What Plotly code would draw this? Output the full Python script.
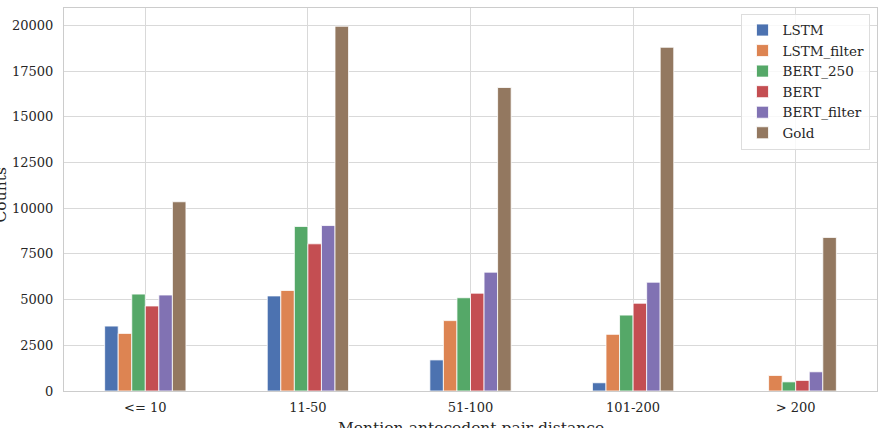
import plotly.graph_objects as go

categories = ["<= 10", "11-50", "51-100", "101-200", "> 200"]
series_names = ["LSTM", "LSTM_filter", "BERT_250", "BERT", "BERT_filter", "Gold"]
lstm = [3550, 5200, 1700, 450, 0]
lstm_filter = [3150, 5500, 3850, 3100, 850]
bert_250 = [5300, 9000, 5100, 4150, 500]
bert = [4650, 8050, 5350, 4800, 580]
bert_filter = [5250, 9050, 6500, 5950, 1050]
gold = [10350, 19950, 16600, 18800, 8400]
colors = ["#4C72B0", "#DD8452", "#55A868", "#C44E52", "#8172B3", "#937860"]

values = [lstm, lstm_filter, bert_250, bert, bert_filter, gold]

FONT = "DejaVu Serif"
TXT = "#262626"

fig = go.Figure()
for name, vals, col in zip(series_names, values, colors):
    fig.add_trace(go.Bar(x=categories, y=vals, name=name,
                         marker=dict(color=col, line=dict(color="white", width=0.8))))

fig.update_layout(
    width=885, height=428,
    margin=dict(l=64, r=8, t=8, b=37),
    paper_bgcolor="white", plot_bgcolor="white",
    barmode="group", bargap=0.5, bargroupgap=0,
    font=dict(family=FONT, size=13, color=TXT),
    showlegend=True,
    legend=dict(x=0.992, y=0.985, xanchor="right", yanchor="top",
                bgcolor="rgba(255,255,255,0.8)", bordercolor="#dddddd", borderwidth=1,
                font=dict(family=FONT, size=13.5, color=TXT)),
    xaxis=dict(range=[-0.5, 4.5], showgrid=True, gridcolor="#d9d9d9", gridwidth=1,
               showline=True, linecolor="#cccccc", linewidth=1.2, mirror=True,
               ticks="", ticklabelstandoff=4, tickfont=dict(size=13, color=TXT),
               zeroline=False),
    yaxis=dict(range=[0, 20948], tickvals=[0, 2500, 5000, 7500, 10000, 12500, 15000, 17500, 20000],
               tickformat="d", showgrid=True, gridcolor="#d9d9d9", gridwidth=1,
               showline=True, linecolor="#cccccc", linewidth=1.2, mirror=True,
               ticks="", ticklabelstandoff=7, tickfont=dict(size=13, color=TXT),
               zeroline=False),
)

fig.add_annotation(text="Counts", xref="paper", yref="paper", x=0, y=0.5,
                   xanchor="center", yanchor="middle", xshift=-64, yshift=4, textangle=-90,
                   showarrow=False, font=dict(family=FONT, size=15.5, color=TXT))
fig.add_annotation(text="Mention-antecedent pair distance", xref="paper", yref="paper",
                   x=0.5, y=0, xanchor="center", yanchor="top", yshift=-26,
                   showarrow=False, font=dict(family=FONT, size=15.5, color=TXT))

fig.write_html("out.html")
